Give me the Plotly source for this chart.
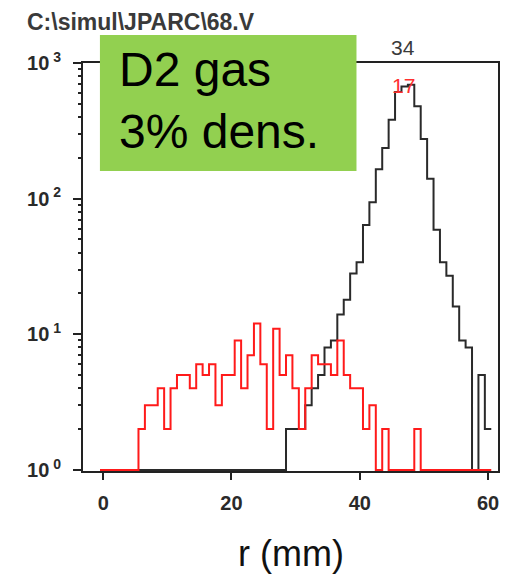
import plotly.graph_objects as go

# ---- data ----
bin_centers = list(range(0, 61))          # r (mm), 1 mm bins
red_counts = [0, 0, 0, 0, 0, 0, 2, 3, 3, 4,
              2, 4, 5, 5, 4, 6, 5, 6, 3, 5,
              5, 9, 4, 7, 12, 6, 2, 11, 5, 7,
              4, 2, 4, 7, 6, 6, 5, 9, 5, 4,
              4, 2, 3, 0, 2, 0, 0, 0, 0, 2,
              0, 0, 0, 0, 0, 0, 0, 0, 0, 0, 0]
black_counts = [0, 0, 0, 0, 0, 0, 0, 0, 0, 0,
                0, 0, 0, 0, 0, 0, 0, 0, 0, 0,
                0, 0, 0, 0, 0, 0, 0, 0, 0, 2,
                2, 2, 3, 4, 5, 8, 9, 14, 18, 28,
                34, 64, 94, 165, 236, 381, 610, 670, 690, 480,
                275, 140, 59, 34, 27, 16, 9, 8, 0, 5, 2]
x_tick_vals = [0, 20, 40, 60]
y_tick_vals = [1, 10, 100, 1000]
y_tick_text = ["10<sup> 0</sup>", "10<sup> 1</sup>", "10<sup> 2</sup>", "10<sup> 3</sup>"]
hist_ids = ["34", "17"]
title_text = "C:\\simul\\JPARC\\68.V"
box_text = "D2 gas<br>3% dens."
x_title = "r (mm)"

FONT = "Liberation Sans, Arial, sans-serif"
Y_RANGE = [-0.008, 3.0]

minor_vals = [d * m for d in y_tick_vals[:-1] for m in range(2, 10)]


def step_xy(centers, counts):
    xs = [c - 0.5 for c in centers] + [centers[-1] + 0.5]
    ys = [max(v, 1) for v in counts]      # empty bins drawn on the 10^0 floor
    ys = ys + [ys[-1]]
    return xs, ys


fig = go.Figure()
bx, by = step_xy(bin_centers, black_counts)
fig.add_trace(go.Scatter(x=bx, y=by, mode="lines", line_shape="hv",
                         line=dict(color="#2a2a2a", width=2), showlegend=False))
rx, ry = step_xy(bin_centers, red_counts)
fig.add_trace(go.Scatter(x=rx, y=ry, mode="lines", line_shape="hv",
                         line=dict(color="#ff1a1a", width=2), showlegend=False))
# invisible helper on the overlay axis that carries the minor log ticks
fig.add_trace(go.Scatter(x=[bin_centers[0]], y=[y_tick_vals[0]], yaxis="y2",
                         mode="markers", marker=dict(opacity=0),
                         hoverinfo="skip", showlegend=False))

tick_font = dict(size=20, family=FONT, color="#2a2a2a", weight="bold")

fig.update_layout(
    width=509, height=579,
    margin=dict(l=83, r=9, t=63, b=108),
    paper_bgcolor="white", plot_bgcolor="white",
    font=dict(family=FONT, color="#222"),
    xaxis=dict(range=[-3.15, 61.55], tickvals=x_tick_vals, ticks="outside",
               ticklen=7, tickwidth=2, tickcolor="#222", showgrid=False,
               zeroline=False, showline=True, linecolor="#222", linewidth=2,
               mirror=True, layer="below traces",
               tickfont=tick_font, ticklabelstandoff=6),
    yaxis=dict(type="log", range=Y_RANGE, tickvals=y_tick_vals,
               ticktext=y_tick_text, ticks="outside", ticklen=8, tickwidth=2,
               tickcolor="#222", showgrid=False, zeroline=False, showline=True,
               linecolor="#222", linewidth=2, mirror=True, layer="below traces",
               tickfont=tick_font, ticklabelstandoff=8),
    yaxis2=dict(type="log", range=Y_RANGE, overlaying="y", side="left",
                anchor="x", tickmode="array", tickvals=minor_vals,
                ticks="outside", ticklen=4, tickwidth=1.5, tickcolor="#222",
                showticklabels=False, showgrid=False, zeroline=False,
                showline=False, layer="below traces"),
)

# green label box
fig.add_shape(type="rect", xref="paper", yref="paper",
              x0=0.0408, x1=0.659, y0=0.735, y1=1.0686,
              fillcolor="#92D050", line=dict(width=0), layer="above")
fig.add_annotation(text=box_text, xref="paper", yref="paper", x=0.081, y=0.909,
                   xanchor="left", yanchor="middle", align="left", showarrow=False,
                   font=dict(size=48, family=FONT, color="black"))

# file title
fig.add_annotation(text=title_text, xref="paper", yref="paper", x=-0.139, y=1.100,
                   xanchor="left", yanchor="middle", showarrow=False,
                   font=dict(size=23, family=FONT, color="#3a3a3a", weight="bold"))

# histogram ids
fig.add_annotation(text=hist_ids[0], xref="paper", yref="paper", x=0.772, y=1.037,
                   xanchor="center", yanchor="middle", showarrow=False,
                   font=dict(size=21, family=FONT, color="#3a3a3a"))
fig.add_annotation(text=hist_ids[1], xref="paper", yref="paper", x=0.772, y=0.946,
                   xanchor="center", yanchor="middle", showarrow=False,
                   font=dict(size=21, family=FONT, color="#ff3030"))

# x axis title
fig.add_annotation(text=x_title, xref="paper", yref="paper", x=0.5, y=-0.201,
                   xanchor="center", yanchor="middle", showarrow=False,
                   font=dict(size=36, family=FONT, color="#111"))

fig.write_html("out.html",
               config={"displayModeBar": False},
               post_script="document.body.style.margin='0px';"
                           "document.body.style.overflow='hidden';")
